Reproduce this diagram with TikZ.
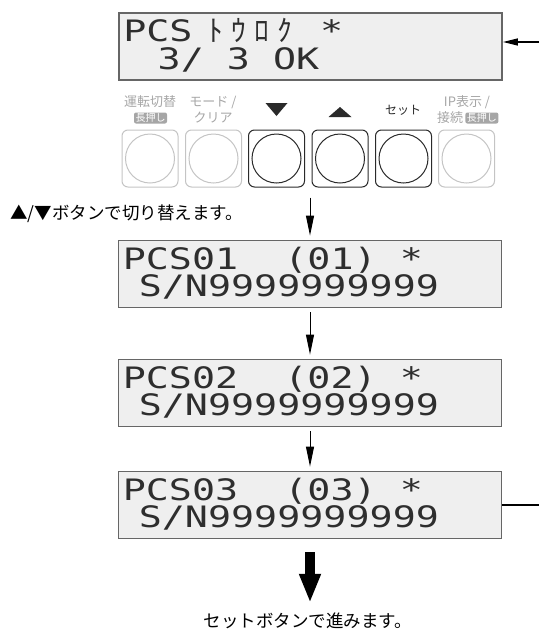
\documentclass[tikz,border=0pt]{standalone}
\usepackage{fontspec}
\setmainfont{Noto Sans CJK JP}
\newfontfamily\lcdfont[FakeStretch=1.30]{DejaVu Sans Mono}
\newfontfamily\kanafont{Noto Sans CJK JP}
\usetikzlibrary{arrows.meta, positioning}

\definecolor{lcdback}{HTML}{EFEFEF}
\definecolor{lcdframe}{HTML}{666666}
\definecolor{lcdink}{HTML}{2E2E2E}
\definecolor{keylight}{HTML}{C4C4C4}
\definecolor{keydark}{HTML}{2A2A2A}
\definecolor{labelgray}{HTML}{A6A6A6}

\newlength{\lcdcell}
\setlength{\lcdcell}{23.2pt}
\newcommand{\kana}[1]{\makebox[\lcdcell]{\kanafont #1}}

\tikzstyle{lcd} = [
    rectangle,
    minimum width=383pt,
    minimum height=67pt,
    line width=1.8pt,
    draw=lcdframe,
    fill=lcdback
]
\tikzstyle{lcdtext} = [
    anchor=base west,
    inner sep=0pt,
    text height=21pt,
    text depth=0pt,
    text=lcdink,
    font={\lcdfont\fontsize{29.5}{29.5}\selectfont}
]
\tikzstyle{keyoff} = [
    rectangle,
    rounded corners=6pt,
    minimum width=56pt,
    minimum height=57pt,
    line width=1pt,
    draw=keylight
]
\tikzstyle{keyon} = [keyoff, draw=keydark]
\tikzstyle{ringoff} = [circle, minimum size=49pt, line width=1pt, draw=keylight]
\tikzstyle{ringon} = [ringoff, draw=keydark]
\tikzstyle{keylabel} = [
    inner sep=0pt,
    text=labelgray,
    font={\fontsize{13}{15}\selectfont}
]
\tikzstyle{longpress} = [
    rectangle,
    rounded corners=2pt,
    inner xsep=1.5pt,
    inner ysep=0pt,
    minimum height=11pt,
    fill=labelgray,
    text=white,
    font={\fontsize{10}{11}\selectfont}
]
\tikzstyle{hint} = [inner sep=0pt, font={\fontsize{17.5}{20}\selectfont}]
\tikzstyle{arrow} = [line width=1pt, -{Triangle[length=20pt,width=8pt]}]
\tikzstyle{feed} = [line width=1.5pt, -{Triangle[length=15pt,width=7pt]}]
\tikzstyle{bigarrow} = [line width=10pt, -{Triangle[length=29pt,width=20pt]}]

\begin{document}
\begin{tikzpicture}[x=1pt, y=-1pt]
\useasboundingbox (0,0) rectangle (539,630);

% registration display
\node (lcd0) [lcd] at (310.5,46.5) {};
\node (lcd0a) [lcdtext] at ([shift={(5,29.5)}]lcd0.north west)
{PCS\hspace{.5\lcdcell}\kana{ﾄ}\kana{ｳ}\kana{ﾛ}\kana{ｸ}~*};
\node (lcd0b) [lcdtext] at ([shift={(16.3,57)}]lcd0.north west) {~3/~3~OK};

% operation keys
\node (btn1) [keyoff] at (150,158.5) {};
\node (ring1) [ringoff] at (btn1) {};
\node (btn2) [keyoff] at (213.5,158.5) {};
\node (ring2) [ringoff] at (btn2) {};
\node (btn3) [keyon] at (276.5,158.5) {};
\node (ring3) [ringon] at (btn3) {};
\node (btn4) [keyon] at (340,158.5) {};
\node (ring4) [ringon] at (btn4) {};
\node (btn5) [keyon] at (403.5,158.5) {};
\node (ring5) [ringon] at (btn5) {};
\node (btn6) [keyoff] at (466.5,158.5) {};
\node (ring6) [ringoff] at (btn6) {};

\node (lab1) [keylabel] at (150,102) {運転切替};
\node (lab1b) [longpress] at (150.5,118) {長押し};
\node (lab2) [keylabel] at (213,102) {モード /};
\node (lab2b) [keylabel] at (213,118) {クリア};
\fill [keydark] ([shift={(-11,-55.5)}]btn3.center) -- ([shift={(11,-55.5)}]btn3.center)
    -- ([shift={(0,-42.5)}]btn3.center) -- cycle;
\fill [keydark] ([shift={(-11.5,-41.5)}]btn4.center) -- ([shift={(11.5,-41.5)}]btn4.center)
    -- ([shift={(0,-51.5)}]btn4.center) -- cycle;
\node (lab5) [keylabel, text=keydark, font={\fontsize{12}{14}\selectfont}] at (403,110) {セット};
\node (lab6) [keylabel] at (467,102) {IP表示 /};
\node (lab6b) [keylabel] at (450,118) {接続};
\node (lab6c) [longpress, right=2pt of lab6b] {長押し};

\node (hint1) [hint, anchor=west] at (10,214) {▲/▼ボタンで切り替えます。};

% PCS list
\node (lcd1) [lcd] at (310,274) {};
\node (lcd1a) [lcdtext] at ([shift={(5,29.5)}]lcd1.north west) {PCS01~~(01)~*};
\node (lcd1b) [lcdtext] at ([shift={(21,57)}]lcd1.north west) {S/N9999999999};

\node (lcd2) [lcd, below of=lcd1, node distance=119pt] {};
\node (lcd2a) [lcdtext] at ([shift={(5,29.5)}]lcd2.north west) {PCS02~~(02)~*};
\node (lcd2b) [lcdtext] at ([shift={(21,57)}]lcd2.north west) {S/N9999999999};

\node (lcd3) [lcd, below of=lcd2, node distance=112pt] {};
\node (lcd3a) [lcdtext] at ([shift={(5,29.5)}]lcd3.north west) {PCS03~~(03)~*};
\node (lcd3b) [lcdtext] at ([shift={(21,57)}]lcd3.north west) {S/N9999999999};

\node (hint2) [hint] at (308,621) {セットボタンで進みます。};

\coordinate (feedin) at (539,42);
\coordinate (feedout) at (539,505);

\draw [feed] (feedin) -- (feedin -| lcd0.east);
\draw [arrow, shorten <=10pt, shorten >=4pt] (lcd1.north |- btn4.south) -- (lcd1.north);
\draw [arrow, shorten <=4pt, shorten >=4pt] (lcd1) -- (lcd2);
\draw [arrow, shorten <=4pt, shorten >=4pt] (lcd2) -- (lcd3);
\draw [line width=1.5pt] (lcd3.east) -- (feedout);
\draw [bigarrow, shorten <=13pt, shorten >=10pt] (lcd3.south) -- (lcd3.south |- hint2.north);

\end{tikzpicture}
\end{document}
